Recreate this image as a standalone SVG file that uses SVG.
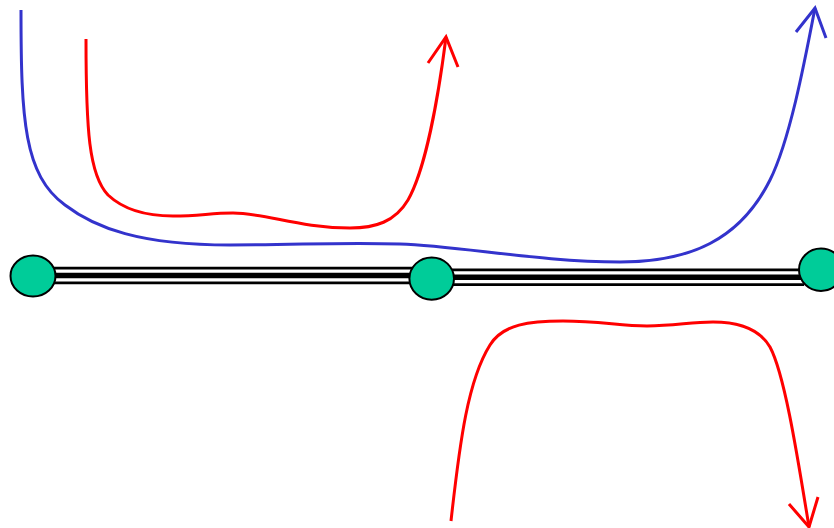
<svg xmlns="http://www.w3.org/2000/svg" width="834" height="528" viewBox="0 0 834 528">
<style>
.o{stroke:#000;stroke-width:17.5;fill:none}
.w{stroke:#fff;stroke-width:12;fill:none}
.i{stroke:#000;stroke-width:5.5;fill:none}
.node{fill:#00cc99;stroke:#000;stroke-width:2}
.blue{stroke:#3333cc;stroke-width:3;fill:none}
.red{stroke:#ff0000;stroke-width:3;fill:none}
</style>
<rect width="834" height="528" fill="#fff"/>
<g id="connectors">
<g id="link1">
<line class="o" x1="50" y1="275.5" x2="420" y2="275.5"/>
<line class="w" x1="50" y1="275.5" x2="420" y2="275.5"/>
<line class="i" x1="50" y1="275.5" x2="420" y2="275.5"/>
</g>
<g id="link2">
<line class="o" x1="440" y1="277.3" x2="804" y2="277.3"/>
<line class="w" x1="440" y1="277.3" x2="804" y2="277.3"/>
<line class="i" x1="440" y1="277.3" x2="804" y2="277.3"/>
</g>
<g id="blue-path">
<path class="blue" d="M21,10 C21,120 24,175 65,205 C95,228 140,245 230,245 C300,245 340,242 400,244 C460,246 540,262 620,262 C690,262 740,240 770,180 C790,140 805,60 815,8"/>
<polyline class="blue" points="796,32 815,8 826,38"/>
</g>
<g id="red-path-1">
<path class="red" d="M86,39 C86,130 89,175 108,195 C124,210 148,216 173,216 C200,216 210,213 233,213 C265,213 300,228 350,228 C375,228 395,222 408,200 C425,170 438,100 446,37"/>
<polyline class="red" points="428,63 446,37 458,67"/>
</g>
<g id="red-path-2">
<path class="red" d="M451,521 C460,440 468,380 490,345 C503,324 530,321 563,321 C600,321 620,326 647,326 C675,326 690,322 713,322 C740,322 760,330 770,347 C785,375 798,460 809,527"/>
<polyline class="red" points="789,504 809,527 818,497"/>
</g>
</g>
<g id="node1"><ellipse class="node" cx="33" cy="276" rx="22.5" ry="20.5"/></g>
<g id="node2"><ellipse class="node" cx="431.7" cy="278.6" rx="22.3" ry="21.2"/></g>
<g id="node3"><ellipse class="node" cx="821" cy="269.7" rx="22" ry="21.2"/></g>
</svg>
